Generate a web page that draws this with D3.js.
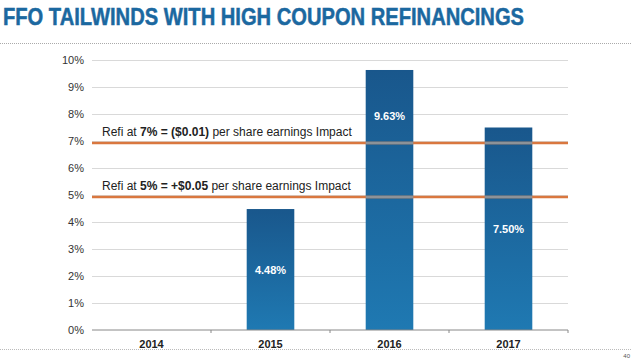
<!DOCTYPE html>
<html>
<head>
<meta charset="utf-8">
<script src="https://cdn.jsdelivr.net/npm/d3@7"></script>
<style>
  html, body { margin: 0; padding: 0; background: #fff; }
  svg { display: block; font-family: "Liberation Sans", Arial, sans-serif; }
</style>
</head>
<body>
<svg id="chart" width="635" height="362"></svg>
<script>
/* ── DATA ── */
const years = ['2014', '2015', '2016', '2017'];
const rates = [null, 4.48, 9.63, 7.50];
const yTicks = [0, 1, 2, 3, 4, 5, 6, 7, 8, 9, 10];
const refiRates = [7, 5];
const refiLabels = [
  [['Refi at ', false], ['7% = ($0.01)', true], [' per share earnings Impact', false]],
  [['Refi at ', false], ['5% = +$0.05', true], [' per share earnings Impact', false]]
];
const title = 'FFO TAILWINDS WITH HIGH COUPON REFINANCINGS';

/* ── CHART ── */
(function () {
  const svg = d3.select('#chart');
  const W = 635, H = 362;
  const m = { left: 92, right: 67, top: 60, bottom: 32 };

  const x = d3.scaleBand().domain(years).range([m.left, W - m.right])
    .paddingInner(0.6).paddingOuter(0.3);
  const y = d3.scaleLinear().domain([0, 10]).range([H - m.bottom, m.top]);

  const defs = svg.append('defs');
  const grad = defs.append('linearGradient').attr('id', 'barGrad')
    .attr('x1', 0).attr('y1', 0).attr('x2', 0).attr('y2', 1);
  grad.append('stop').attr('offset', '0%').attr('stop-color', '#19578c');
  grad.append('stop').attr('offset', '100%').attr('stop-color', '#1f79b2');

  // title
  svg.append('text')
    .attr('x', 3).attr('y', 25)
    .attr('font-family', '"Liberation Sans Narrow", "Liberation Sans", Arial, sans-serif')
    .attr('font-weight', 700).attr('font-size', 24)
    .attr('fill', '#1b68a0').attr('stroke', '#1b68a0').attr('stroke-width', 0.5)
    .attr('textLength', 521).attr('lengthAdjust', 'spacingAndGlyphs')
    .text(title);

  // dotted separators
  svg.append('line').attr('x1', 0).attr('x2', 632).attr('y1', 43.5).attr('y2', 43.5)
    .attr('stroke', '#aaa').attr('stroke-width', 1).attr('stroke-dasharray', '1,1');
  svg.append('line').attr('x1', 0).attr('x2', 632).attr('y1', 349.5).attr('y2', 349.5)
    .attr('stroke', '#bbb').attr('stroke-width', 1).attr('stroke-dasharray', '1,1');
  svg.append('text').attr('x', 630).attr('y', 358).attr('text-anchor', 'end')
    .attr('font-size', 6).attr('fill', '#555').text('40');

  // gridlines
  svg.append('g')
    .attr('transform', `translate(${m.left},0)`)
    .call(d3.axisLeft(y).tickValues(yTicks.slice(1)).tickSize(-(W - m.left - m.right)).tickFormat(''))
    .call(g => g.select('.domain').remove())
    .call(g => g.selectAll('line').attr('stroke', '#d9d9d9'));

  // y labels
  svg.append('g')
    .attr('transform', `translate(${m.left},0)`)
    .call(d3.axisLeft(y).tickValues(yTicks).tickSize(0).tickPadding(8).tickFormat(d => d + '%'))
    .call(g => g.select('.domain').remove())
    .call(g => g.selectAll('text').attr('font-size', 11).attr('fill', '#333')
      .attr('font-family', '"Liberation Sans", Arial, sans-serif'));

  // bars
  const data = years.map((yr, i) => ({ yr, v: rates[i] })).filter(d => d.v != null);
  svg.append('g').selectAll('rect').data(data).join('rect')
    .attr('x', d => x(d.yr)).attr('width', x.bandwidth())
    .attr('y', d => y(d.v)).attr('height', d => y(0) - y(d.v))
    .attr('fill', 'url(#barGrad)');

  // x axis
  const step = x.step();
  svg.append('g')
    .attr('transform', `translate(0,${y(0)})`)
    .call(d3.axisBottom(x).tickSize(0).tickPadding(10))
    .call(g => g.select('.domain').attr('stroke', '#888').attr('d', `M${m.left},0H${W - m.right}`))
    .call(g => g.selectAll('text').attr('font-size', 11).attr('font-weight', 700).attr('fill', '#222')
      .attr('font-family', '"Liberation Sans", Arial, sans-serif'));
  // small separator ticks between categories
  svg.append('g').selectAll('line').data(years.slice(1).concat(['end'])).join('line')
    .attr('x1', (d, i) => m.left + step * (i + 1)).attr('x2', (d, i) => m.left + step * (i + 1))
    .attr('y1', y(0)).attr('y2', y(0) + 3)
    .attr('stroke', '#888');

  // refi lines
  refiRates.forEach(r => {
    svg.append('line')
      .attr('x1', m.left).attr('x2', W - m.right)
      .attr('y1', y(r) + 2).attr('y2', y(r) + 2)
      .attr('stroke', '#d9773f').attr('stroke-width', 2.5);
    // grey where it passes over a bar
    data.filter(d => d.v > r).forEach(d => {
      svg.append('line')
        .attr('x1', x(d.yr)).attr('x2', x(d.yr) + x.bandwidth())
        .attr('y1', y(r) + 2).attr('y2', y(r) + 2)
        .attr('stroke', '#8d9298').attr('stroke-width', 2.5);
    });
  });

  // refi annotations
  refiRates.forEach((r, i) => {
    const t = svg.append('text')
      .attr('x', m.left + 10).attr('y', y(r) - 5)
      .attr('font-size', 12).attr('fill', '#222');
    refiLabels[i].forEach(([s, b]) => {
      t.append('tspan').attr('font-weight', b ? 700 : 400).text(s);
    });
  });

  // bar value labels: centre of bar, or upper part if the centre sits on a refi line
  svg.append('g').selectAll('text').data(data).join('text')
    .attr('x', d => x(d.yr) + x.bandwidth() / 2)
    .attr('y', d => {
      const mid = d.v / 2;
      const clash = refiRates.some(r => Math.abs(mid - r) < 0.5);
      const cy = clash ? y(d.v) + 46 : y(mid);
      return cy + 4;
    })
    .attr('text-anchor', 'middle')
    .attr('font-size', 11).attr('font-weight', 700).attr('fill', '#fff')
    .text(d => d.v.toFixed(2) + '%');
})();
</script>
</body>
</html>
